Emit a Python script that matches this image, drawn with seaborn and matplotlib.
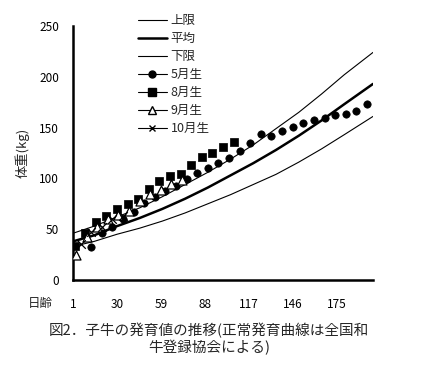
import matplotlib
matplotlib.use('Agg')
import matplotlib.pyplot as plt
import seaborn as sns
import pandas as pd
from matplotlib.lines import Line2D

# ---- data ----
curve_days = [1, 15, 30, 45, 60, 75, 90, 105, 120, 135, 150, 165, 180, 199]
upper = [46, 53, 62, 71, 82, 94, 106, 119, 133, 149, 165, 183, 202, 224]
mean = [38, 44, 53, 61, 70, 80, 91, 103, 115, 128, 142, 157, 173, 193]
lower = [33, 38, 45, 51, 58, 66, 75, 84, 94, 104, 116, 129, 143, 161]

may_days = [13, 20, 27, 34, 41, 48, 55, 62, 69, 76, 83, 90, 97, 104, 111, 118,
            125, 132, 139, 146, 153, 160, 167, 174, 181, 188, 195]
may_vals = [32, 46, 52, 60, 67, 76, 82, 88, 93, 99, 105, 110, 115, 120, 127, 135,
            144, 142, 147, 151, 155, 157, 159, 162, 163, 166, 173]

aug_days = [2, 9, 16, 23, 30, 37, 44, 51, 58, 65, 72, 79, 86, 93, 100, 107]
aug_vals = [33, 46, 57, 63, 70, 75, 80, 90, 97, 102, 104, 113, 121, 125, 131, 136]

sep_days = [3, 10, 17, 24, 31, 38, 45, 52, 59, 66, 73]
sep_vals = [25, 42, 52, 60, 64, 68, 78, 85, 89, 94, 98]

oct_days = [6, 13, 20, 27, 34]
oct_vals = [35, 47, 52, 60, 63]

x_ticks = [1, 30, 59, 88, 117, 146, 175]
y_ticks = [0, 50, 100, 150, 200, 250]

labels = ['上限', '平均', '下限', '5月生', '8月生', '9月生', '10月生']
x_name = '日齢'
y_name = '体重(kg)'
caption = '図2．子牛の発育値の推移(正常発育曲線は全国和\n牛登録協会による)'

# ---- style ----
sns.set_style('white')
plt.rcParams['font.family'] = ['Noto Sans CJK JP', 'DejaVu Sans']

fig = plt.figure(figsize=(4.26, 3.71), dpi=100)
ax = fig.add_axes([73/426, 1-280/371, 300/426, 254/371])

curves = pd.DataFrame({'day': curve_days, 'upper': upper, 'mean': mean, 'lower': lower})
sns.lineplot(data=curves, x='day', y='upper', ax=ax, color='black', lw=0.8)
sns.lineplot(data=curves, x='day', y='mean', ax=ax, color='black', lw=1.8)
sns.lineplot(data=curves, x='day', y='lower', ax=ax, color='black', lw=0.8)

sns.scatterplot(x=may_days, y=may_vals, ax=ax, marker='o', s=28, color='black',
                edgecolor='black', linewidth=0.5, zorder=5)
sns.scatterplot(x=aug_days, y=aug_vals, ax=ax, marker='s', s=36, color='black',
                edgecolor='black', linewidth=0.5, zorder=5)
sns.scatterplot(x=sep_days, y=sep_vals, ax=ax, marker='^', s=42, color='white',
                edgecolor='black', linewidth=0.9, zorder=6)
sns.scatterplot(x=oct_days, y=oct_vals, ax=ax, marker='x', s=38, color='black',
                linewidth=0.9, zorder=7)

ax.set_xlim(1, 199)
ax.set_ylim(0, 250)
ax.set_xticks(x_ticks)
ax.set_xticklabels([str(t) for t in x_ticks])
ax.set_yticks(y_ticks)
ax.set_yticklabels([str(t) for t in y_ticks])
ax.tick_params(axis='both', direction='in', length=5, width=1.5, colors='black',
               labelsize=8.5)
ax.tick_params(axis='x', pad=13)
ax.tick_params(axis='y', pad=10)
ax.set_xlabel('')
ax.set_ylabel(y_name, fontsize=9.5, labelpad=7)
for s in ['top', 'right']:
    ax.spines[s].set_visible(False)
for s in ['left', 'bottom']:
    ax.spines[s].set_color('black')
    ax.spines[s].set_linewidth(1.8)

fig.text(40/426, 1-303/371, x_name, ha='center', va='center', fontsize=9)
fig.text(209/426, 1-339/371, caption, ha='center', va='center', fontsize=10.5,
         linespacing=1.1)

handles = [
    Line2D([], [], color='black', lw=0.8),
    Line2D([], [], color='black', lw=1.8),
    Line2D([], [], color='black', lw=0.8),
    Line2D([], [], color='black', lw=0.8, marker='o', markersize=5),
    Line2D([], [], color='black', lw=0.8, marker='s', markersize=6),
    Line2D([], [], color='black', lw=0.8, marker='^', markersize=6,
           markerfacecolor='white', markeredgecolor='black'),
    Line2D([], [], color='black', lw=0.8, marker='x', markersize=5),
]
fig.legend(handles, labels, loc='upper left', bbox_to_anchor=(138/426, 1-14/371),
           frameon=False, fontsize=9, handlelength=2.3, handletextpad=0.3,
           labelspacing=0.4, borderpad=0, borderaxespad=0)

fig.savefig('out.png', dpi=100)
